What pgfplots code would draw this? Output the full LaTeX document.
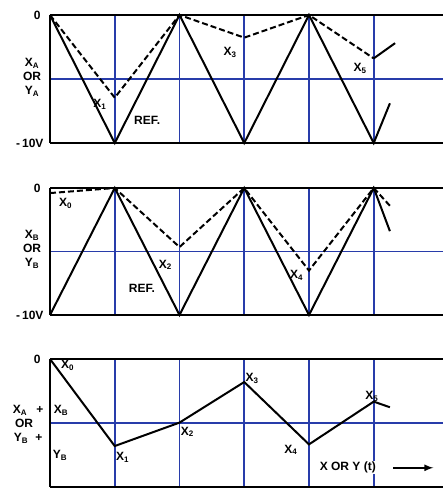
\documentclass[border=0pt]{standalone}
\usepackage{pgfplots}
\pgfplotsset{compat=1.18}
\usepackage{fontspec}
\setmainfont{Liberation Sans}
\definecolor{gridblue}{RGB}{40,60,170}
\pgfplotsset{panel/.style={scale only axis, width=393pt, xmin=0, xmax=6.07, ymin=-10, ymax=0,
  axis x line*=box, axis y line*=left, xtick={1,2,3,4,5}, ytick={-5}, xticklabels={}, yticklabels={},
  major tick length=0pt, grid=major, grid style={gridblue, line width=1.6pt},
  axis line style={black, line width=2pt}, clip=false, anchor=south west},
  ref/.style={black, line width=2pt},
  dsh/.style={black, line width=2pt, dash pattern=on 6pt off 3pt}}
\newcommand{\sub}[2]{#1\textsubscript{#2}}
\begin{document}
\begin{tikzpicture}[font=\fontsize{12}{14}\selectfont\bfseries]
\path[use as bounding box] (0,0) rectangle (443pt,498pt);
% Panel 1
\begin{axis}[panel, height=128pt, at={(50pt,355pt)}]
\addplot[ref] coordinates {(0,0)(1,-10)(2,0)(3,-10)(4,0)(5,-10)(5.25,-6.9)};
\addplot[dsh] coordinates {(0,0)(1,-6.46)(2,0)(3,-1.77)(4,0)(5,-3.39)};
\addplot[ref] coordinates {(5,-3.39)(5.33,-2.2)};
\node[anchor=east] at ([xshift=-6pt]rel axis cs:0,1) {0};
\node[anchor=east] at ([xshift=-3pt]rel axis cs:0,0) {-\hspace{2pt}10V};
\node[align=center, inner sep=0pt] at ([xshift=-18pt,yshift=2pt]axis cs:0,-5) {\sub{X}{A}\\OR\\\sub{Y}{A}};
\node at (axis cs:0.77,-7.0) {\sub{X}{1}};
\node at (axis cs:1.5,-8.2) {REF.};
\node at (axis cs:2.78,-2.9) {\sub{X}{3}};
\node at (axis cs:4.79,-4.2) {\sub{X}{5}};
\end{axis}
% Panel 2
\begin{axis}[panel, height=127pt, at={(50pt,183pt)}]
\addplot[ref] coordinates {(0,-10)(1,0)(2,-10)(3,0)(4,-10)(5,0)(5.25,-3.4)};
\addplot[dsh] coordinates {(0,-0.4)(1,0)(2,-4.65)(3,0)(4,-6.5)(5,0)(5.28,-1.57)};
\node[anchor=east] at ([xshift=-6pt]rel axis cs:0,1) {0};
\node[anchor=east] at ([xshift=-3pt]rel axis cs:0,0) {-\hspace{2pt}10V};
\node[align=center, inner sep=0pt] at ([xshift=-18pt,yshift=2pt]axis cs:0,-5) {\sub{X}{B}\\OR\\\sub{Y}{B}};
\node at (axis cs:0.24,-1.2) {\sub{X}{0}};
\node at (axis cs:1.78,-6.06) {\sub{X}{2}};
\node at (axis cs:1.42,-7.9) {REF.};
\node at (axis cs:3.81,-6.85) {\sub{X}{4}};
\end{axis}
% Panel 3
\begin{axis}[panel, height=128pt, at={(50pt,11pt)}]
\addplot[ref] coordinates {(0,0)(1,-6.8)(2,-4.97)(3,-1.8)(4,-6.67)(5,-3.33)(5.25,-3.77)};
\node[anchor=east] at ([xshift=-6pt]rel axis cs:0,1) {0};
\node[inner sep=0pt] at ([xshift=-30pt]axis cs:0,-4.0) {\sub{X}{A}};
\node[inner sep=0pt] at ([xshift=-10pt]axis cs:0,-4.0) {+};
\node[inner sep=0pt] at ([xshift=11pt]axis cs:0,-4.0) {\sub{X}{B}};
\node[inner sep=0pt] at ([xshift=-26pt]axis cs:0,-5.0) {OR};
\node[inner sep=0pt] at ([xshift=-29pt]axis cs:0,-6.2) {\sub{Y}{B}};
\node[inner sep=0pt] at ([xshift=-11pt]axis cs:0,-6.2) {+};
\node[inner sep=0pt] at ([xshift=10pt]axis cs:0,-7.5) {\sub{Y}{B}};
\node at (axis cs:0.27,-0.5) {\sub{X}{0}};
\node at (axis cs:1.12,-7.7) {\sub{X}{1}};
\node at (axis cs:2.12,-5.7) {\sub{X}{2}};
\node at (axis cs:3.12,-1.5) {\sub{X}{3}};
\node at (axis cs:3.72,-7.1) {\sub{X}{4}};
\node at (axis cs:4.97,-2.9) {\sub{X}{5}};
\node[fill=white, inner sep=1pt] at (axis cs:4.6,-8.5) {X OR Y (t)};
\draw[-latex, line width=2pt] (axis cs:5.3,-8.5) -- (axis cs:5.92,-8.5);
\end{axis}
\end{tikzpicture}
\end{document}
